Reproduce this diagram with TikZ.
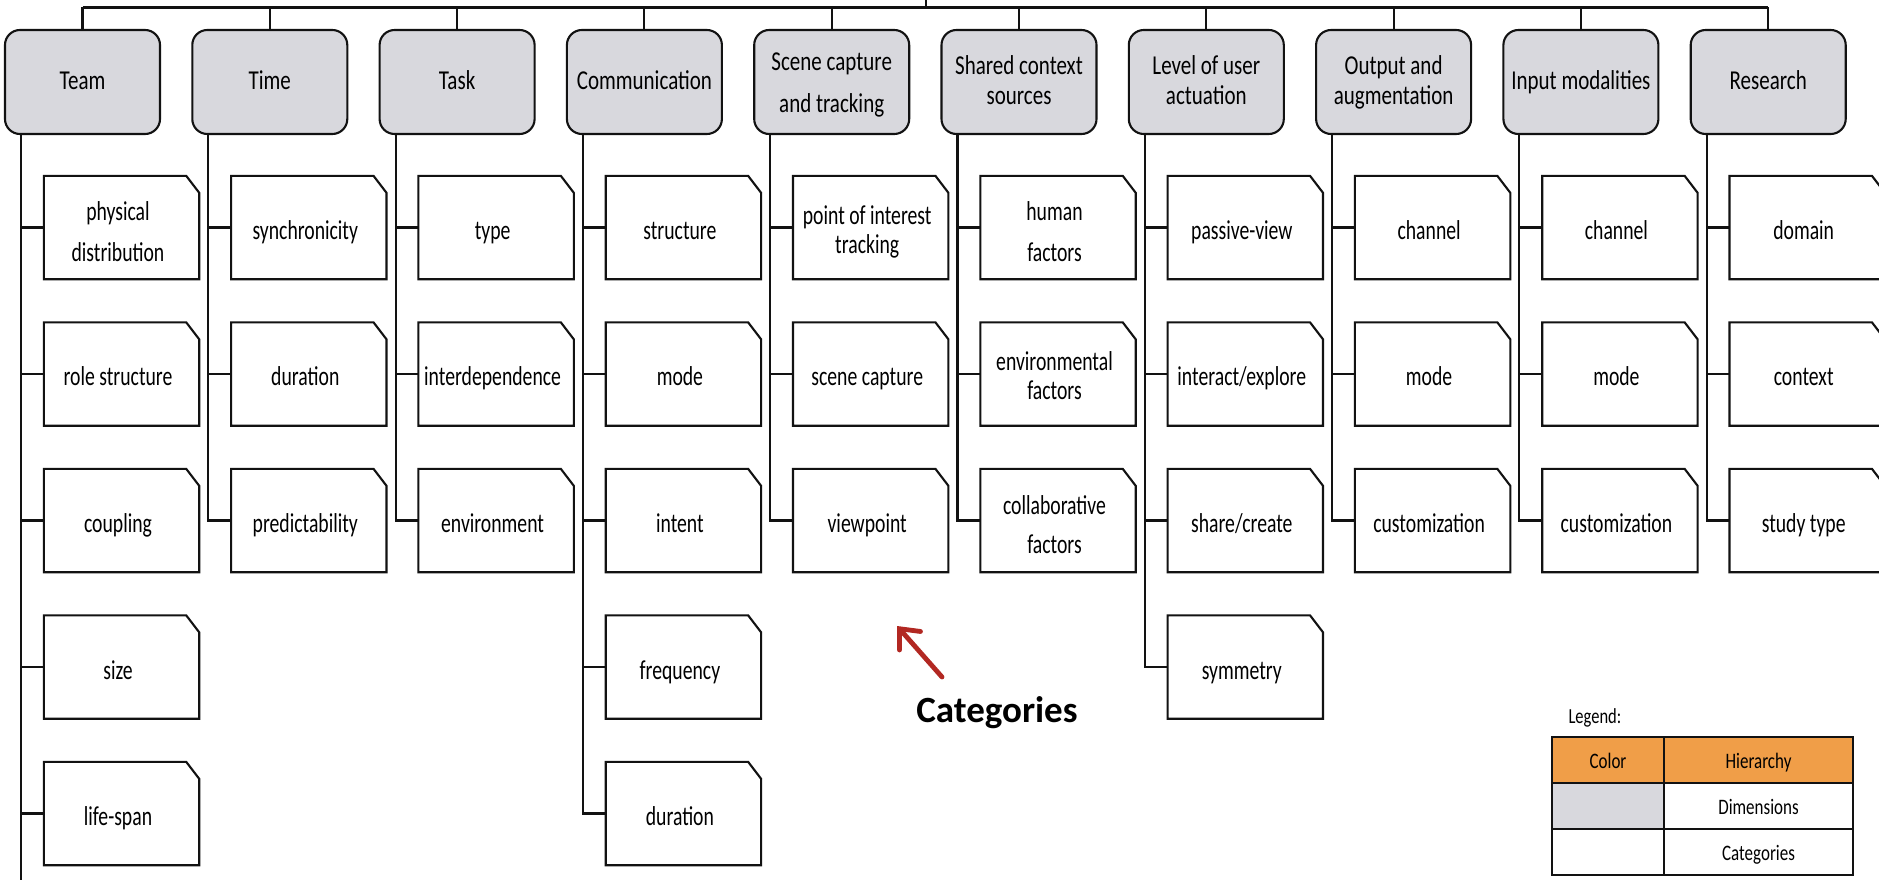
\documentclass[tikz,border=0pt]{standalone}
\usepackage{fontspec}
\setmainfont{Carlito}
\usepackage{graphicx}
\usetikzlibrary{arrows.meta}

\definecolor{dimfill}{RGB}{216,216,221}
\definecolor{legorange}{RGB}{240,158,72}
\definecolor{arrowred}{RGB}{178,40,34}
\definecolor{ink}{RGB}{18,18,18}

% tall, centred block of lines; optional argument = line spacing factor.
% \textdrop / \textshift move the block down / left without changing its
% reported size, \vstretch sets the vertical stretch of the lettering
\def\textdrop{0pt}
\def\textshift{0pt}
\def\vstretch{1.3}
\newcommand\vtext[2][1]{\hspace*{-\textshift}\raisebox{-\textdrop}[\height][\depth]{\scalebox{1}[\vstretch]{\def\arraystretch{#1}\begin{tabular}{@{}c@{}}#2\end{tabular}}}\hspace*{\textshift}}

\tikzset{
  ln/.style={draw=ink, line width=2.1pt},
  dimbox/.style={rectangle, rounded corners=15pt, draw=ink, line width=2.1pt,
    fill=dimfill, minimum width=155pt, minimum height=104pt, inner sep=0pt,
    font=\fontsize{21}{25}\selectfont\def\textdrop{1.5pt}},
  catbox/.style={rectangle, minimum width=155pt, minimum height=103pt,
    inner sep=0pt, font=\fontsize{19.7}{23.45}\selectfont
    \def\vstretch{1.385}\def\textdrop{5.5pt}\def\textshift{3.5pt}},
  legcell/.style={rectangle, draw=ink, line width=2.1pt, minimum height=46pt,
    inner sep=0pt, font=\fontsize{17}{21}\selectfont\def\textdrop{3.5pt}},
}

% dimension box: [spacing]{name}{column}{text}
\newcommand\dimension[4][1]{%
  \node[dimbox] (#2) at (82.5+187.3*#3, 82) {\vtext[#1]{#4}};
  \draw[ln] (#2.north) -- (#2.north |- bus);
  \coordinate (sp#3) at ([xshift=17pt]#2.south west);
}

% category box with clipped corner: [spacing]{name}{column}{row}{text}
\newcommand\category[5][1]{%
  \node[catbox] (#2) at (121.5+187.3*#3, 227.5+146.5*#4) {\vtext[#1]{#5}};
  \draw[ln, line join=miter] (#2.south west) -- (#2.north west)
    -- ([xshift=-13pt]#2.north east) -- ([yshift=-17pt]#2.north east)
    -- (#2.south east) -- cycle;
  \draw[ln] (#2.west) -- (#2.west -| sp#3);
}

\begin{document}
\begin{tikzpicture}[x=1pt, y=-1pt]
\useasboundingbox (0,0) rectangle (1879,880);
\fill[white] (0,0) rectangle (1879,880);
\clip (0,0) rectangle (1879,880);

\coordinate (bus) at (0,7.5);
\coordinate (root) at (926,-10);
\coordinate (floor) at (0,900);

% dimensions
\dimension{team}{0}{Team}
\dimension{time}{1}{Time}
\dimension{task}{2}{Task}
\dimension{comm}{3}{Communication}
\dimension[1.29]{scene}{4}{Scene capture\\and tracking}
\dimension[0.92]{shared}{5}{Shared context\\sources}
\dimension[0.92]{level}{6}{Level of user\\actuation}
\dimension[0.92]{output}{7}{Output and\\augmentation}
\dimension{input}{8}{Input modalities}
\dimension{research}{9}{Research}

% bus line and root stub
\draw[ln] (team.north |- bus) -- (research.north |- bus);
\draw[ln] (root) -- (root |- bus);

% categories
\category[1.26]{c00}{0}{0}{physical\\distribution}
\category{c01}{0}{1}{role structure}
\category{c02}{0}{2}{coupling}
\category{c03}{0}{3}{size}
\category{c04}{0}{4}{life-span}

\category{c10}{1}{0}{synchronicity}
\category{c11}{1}{1}{duration}
\category{c12}{1}{2}{predictability}

\category{c20}{2}{0}{type}
\category{c21}{2}{1}{interdependence}
\category{c22}{2}{2}{environment}

\category{c30}{3}{0}{structure}
\category{c31}{3}{1}{mode}
\category{c32}{3}{2}{intent}
\category{c33}{3}{3}{frequency}
\category{c34}{3}{4}{duration}

\category[0.89]{c40}{4}{0}{point of interest\\tracking}
\category{c41}{4}{1}{scene capture}
\category{c42}{4}{2}{viewpoint}

\category[1.26]{c50}{5}{0}{human\\factors}
\category[0.89]{c51}{5}{1}{environmental\\factors}
\category[1.23]{c52}{5}{2}{collaborative\\factors}

\category{c60}{6}{0}{passive-view}
\category{c61}{6}{1}{interact/explore}
\category{c62}{6}{2}{share/create}
\category{c63}{6}{3}{symmetry}

\category{c70}{7}{0}{channel}
\category{c71}{7}{1}{mode}
\category{c72}{7}{2}{customization}

\category{c80}{8}{0}{channel}
\category{c81}{8}{1}{mode}
\category{c82}{8}{2}{customization}

\category{c90}{9}{0}{domain}
\category{c91}{9}{1}{context}
\category{c92}{9}{2}{study type}

% spines
\draw[ln] (sp0) -- (sp0 |- floor);
\draw[ln, line join=miter] (sp1) |- (c12.west);
\draw[ln, line join=miter] (sp2) |- (c22.west);
\draw[ln, line join=miter] (sp3) |- (c34.west);
\draw[ln, line join=miter] (sp4) |- (c42.west);
\draw[ln, line join=miter] (sp5) |- (c52.west);
\draw[ln, line join=miter] (sp6) |- (c63.west);
\draw[ln, line join=miter] (sp7) |- (c72.west);
\draw[ln, line join=miter] (sp8) |- (c82.west);
\draw[ln, line join=miter] (sp9) |- (c92.west);

% pointer label
\node[font=\fontsize{37}{41}\selectfont\bfseries, anchor=base] (catlabel) at (997,722) {Categories};
\coordinate (arrtail) at (942,677);
\coordinate (arrtip) at (897,626);
\draw[draw=arrowred, line width=4.8pt, line cap=round,
  -{Straight Barb[length=16pt, width=28pt, line cap=round]}] (arrtail) -- (arrtip);

% legend
\node[anchor=west, font=\fontsize{16.5}{20}\selectfont] (legtitle) at (1565,718) {\vtext{Legend:}};
\node[legcell, fill=legorange, minimum width=112pt] (lgA) at (1608,760) {\vtext{Color}};
\node[legcell, fill=legorange, minimum width=189pt] (lgB) at (1758.5,760) {\vtext{Hierarchy}};
\node[legcell, fill=dimfill, minimum width=112pt] (lgC) at (1608,806) {};
\node[legcell, minimum width=189pt] (lgD) at (1758.5,806) {\vtext{Dimensions}};
\node[legcell, minimum width=112pt] (lgE) at (1608,852) {};
\node[legcell, minimum width=189pt] (lgF) at (1758.5,852) {\vtext{Categories}};
\end{tikzpicture}
\end{document}
